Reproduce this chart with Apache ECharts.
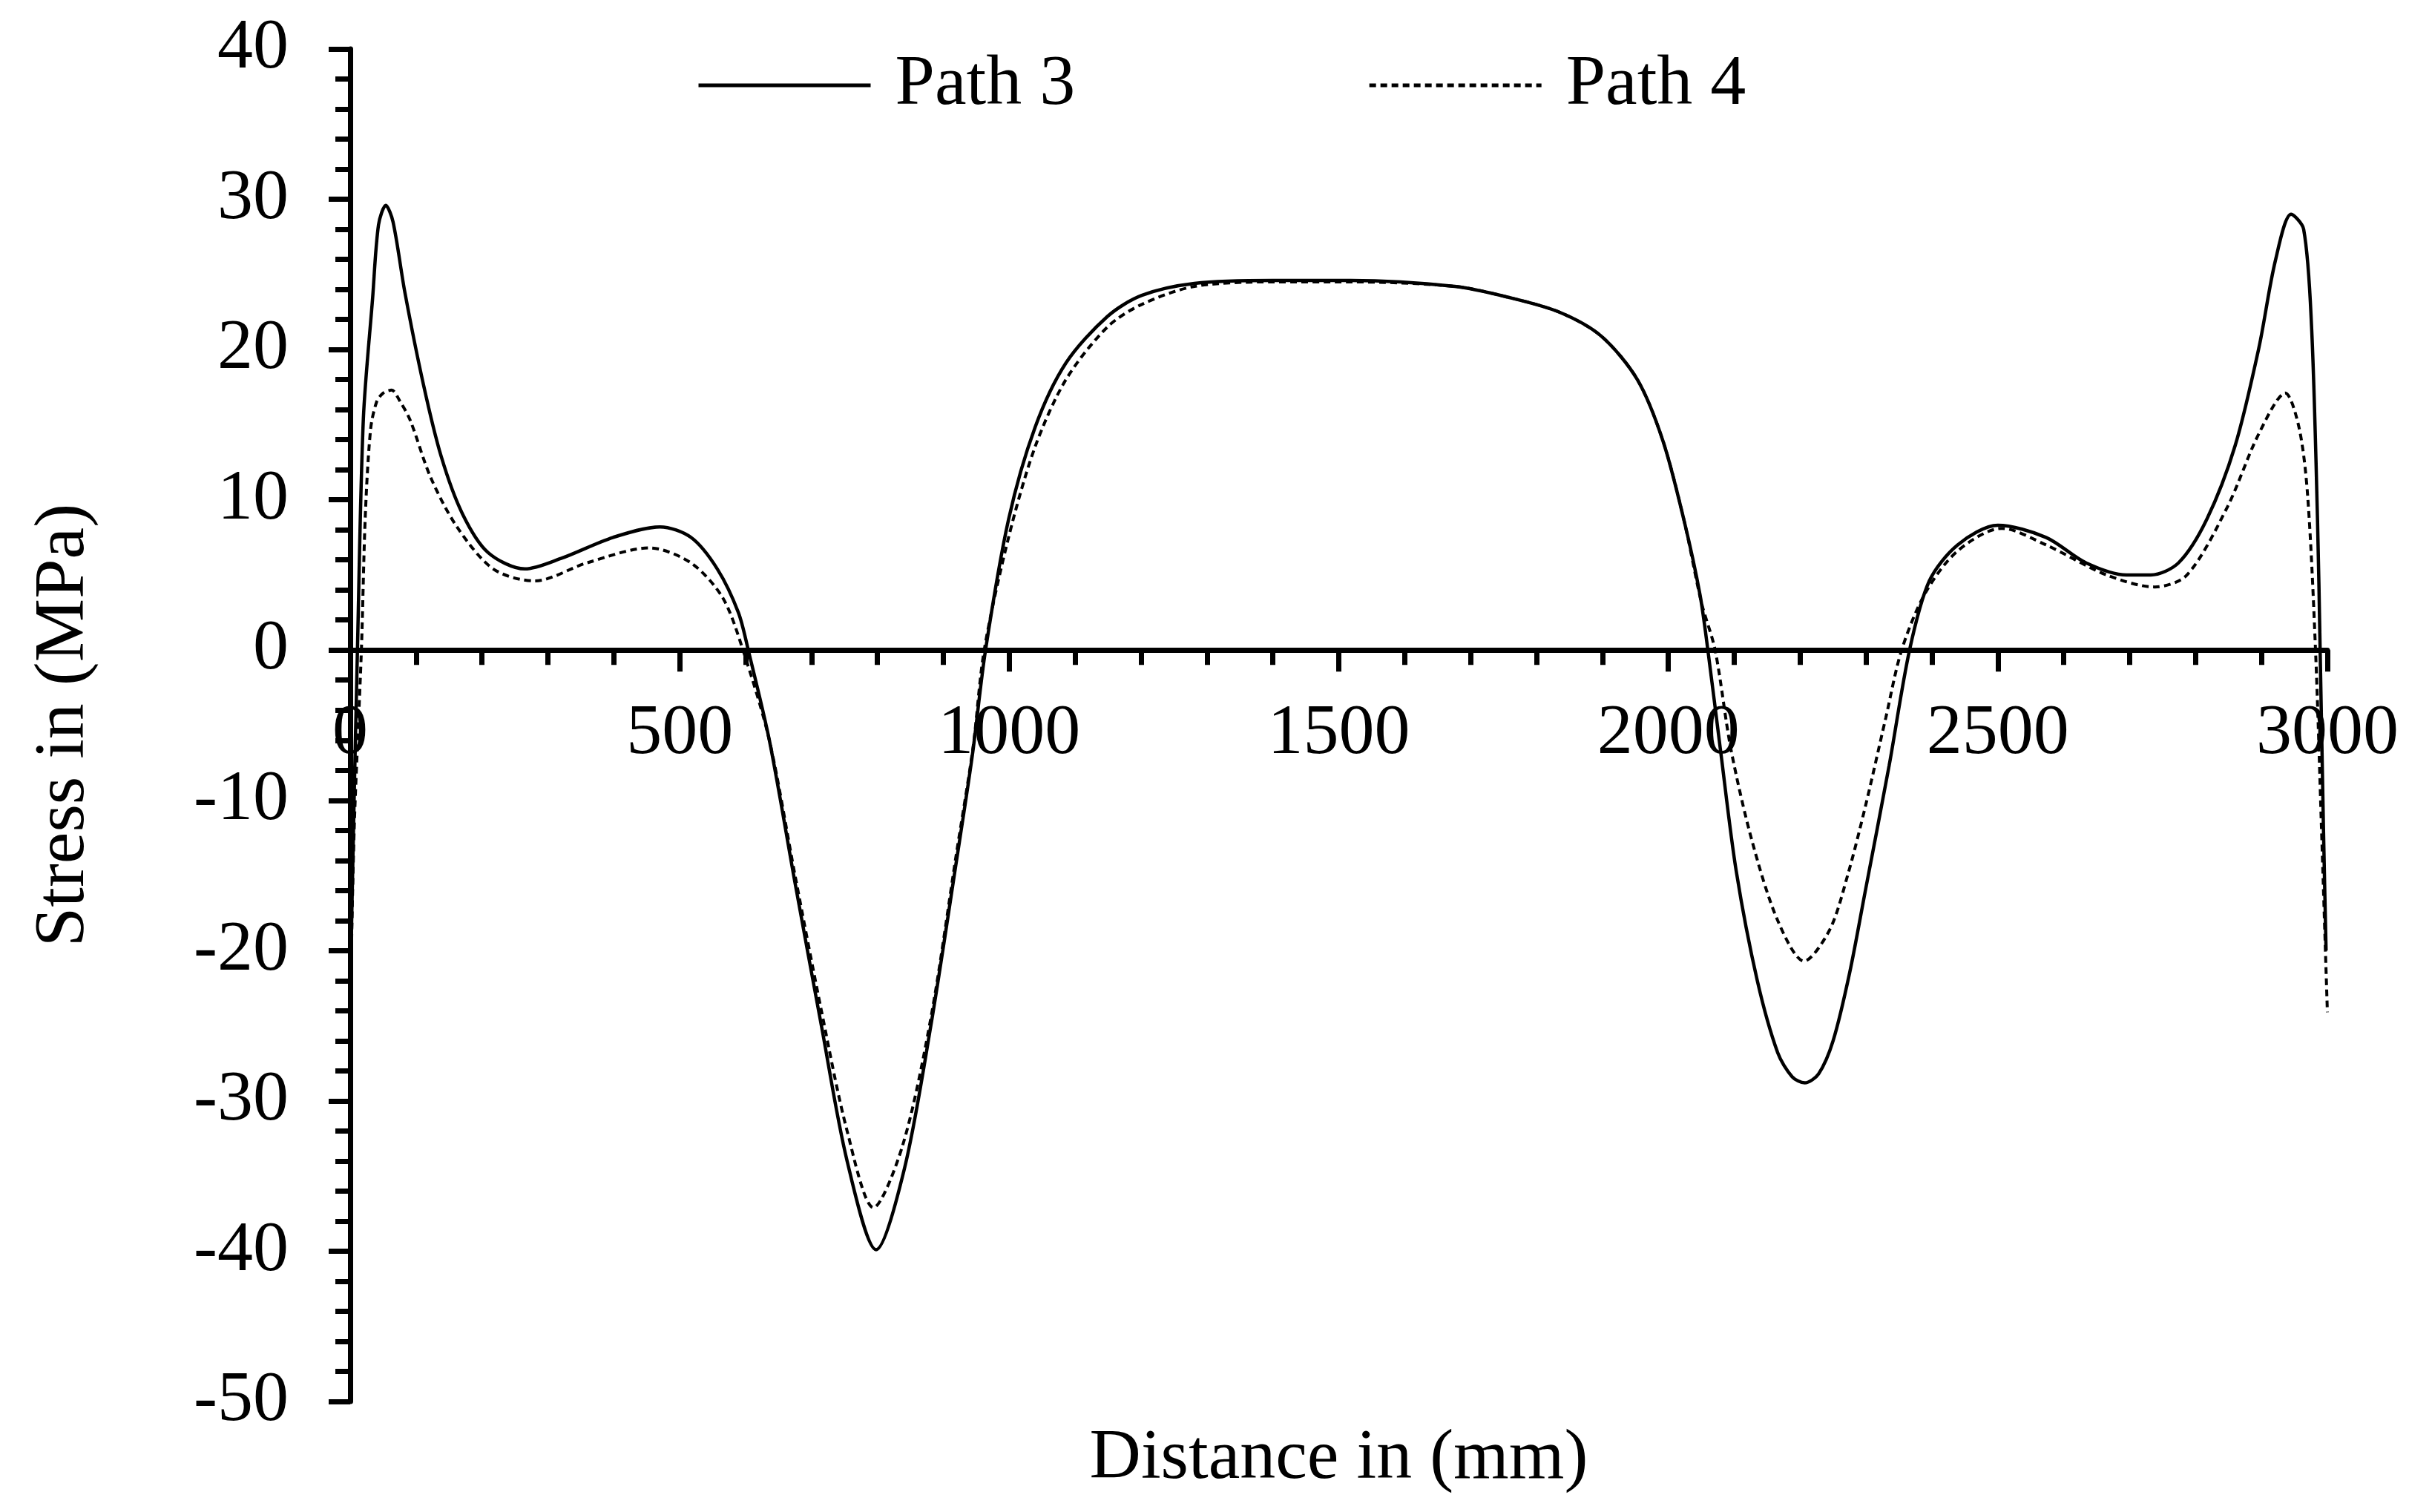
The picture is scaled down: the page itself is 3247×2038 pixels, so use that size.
<!DOCTYPE html>
<html>
<head>
<meta charset="utf-8">
<title>Stress along paths 3 and 4</title>
<script src="https://cdn.jsdelivr.net/npm/echarts@6/dist/echarts.min.js"></script>
<style>
  html, body { margin: 0; padding: 0; background: #fff; }
  #chart { width: 3247px; height: 2038px; }
</style>
</head>
<body>
<div id="chart"></div>
<script>
// distance (mm) and stress (MPa)
const path3X = [0, 5, 11, 20, 34, 43, 54, 65, 83, 111, 138, 170, 209, 265, 320, 399, 470, 517, 557, 589, 604,
  636, 675, 715, 754, 798, 841, 881, 920, 944, 964, 999, 1039, 1086, 1149, 1201, 1281, 1400, 1518, 1676,
  1755, 1834, 1898, 1953, 1992, 2024, 2048, 2060, 2079, 2103, 2135, 2166, 2188, 2207, 2228, 2250, 2275,
  2299, 2335, 2366, 2396, 2439, 2500, 2573, 2634, 2695, 2732, 2774, 2817, 2860, 2896, 2921, 2945, 2964,
  2976, 2985, 2989, 2994, 2998]
const path3Y = [-23, -12, 0, 15.4, 23.4, 28.3, 29.6, 28.5, 23.8, 17.7, 12.9, 9.1, 6.5, 5.4, 6.1, 7.5, 8.2,
  7.5, 5.4, 2.5, 0, -6, -15.5, -25, -34, -39.9, -34.5, -25, -14, -7, 0, 8.7, 14.8, 19.1, 22.2, 23.6, 24.4,
  24.6, 24.6, 24.2, 23.5, 22.5, 20.9, 18.0, 13.9, 8.6, 3.7, 0, -6.6, -14.7, -22.0, -26.8, -28.4, -28.8,
  -28.2, -26.0, -21.5, -16.0, -7.7, 0, 4.6, 7.0, 8.3, 7.5, 5.8, 5.0, 5.0, 5.8, 8.7, 13.6, 20.1, 25.9, 29.0,
  28.0, 21.5, 8.7, 0, -11.8, -20]

const path4X = [0, 6, 17, 23, 31, 40, 50, 63, 75, 91, 122, 162, 217, 280, 359, 454, 517, 565, 596, 636,
  675, 715, 754, 794, 838, 881, 920, 945, 962, 999, 1039, 1086, 1149, 1201, 1281, 1400, 1518, 1676, 1755,
  1834, 1898, 1953, 1992, 2024, 2050, 2071, 2095, 2127, 2166, 2206, 2245, 2272, 2299, 2330, 2354, 2390,
  2439, 2506, 2573, 2665, 2738, 2787, 2848, 2896, 2936, 2957, 2970, 2982, 2991, 3000]
const path4Y = [-24.5, -12, 0, 9, 14.7, 16.5, 17.1, 17.3, 16.6, 15.3, 11.5, 8.2, 5.4, 4.6, 5.8, 6.8, 5.8,
  3.5, 0, -6, -15, -24, -32, -37.1, -33, -24.5, -13.5, -6.5, 0, 7.5, 13.5, 18, 21.5, 23.0, 24.2, 24.5,
  24.5, 24.2, 23.5, 22.5, 20.9, 18.0, 13.9, 8.6, 3.2, 0, -6.6, -12.7, -18.0, -20.7, -18.6, -15.0, -10.4,
  -4.5, 0, 3.8, 6.6, 8.1, 7.0, 5.0, 4.2, 5.0, 9.5, 14.4, 17.1, 14.8, 10.3, 0, -11.8, -24.1]

const seriesNames = ['Path 3', 'Path 4']

const font = "'Liberation Serif', 'Times New Roman', serif"
const ink = '#000'

const pairs = (xs, ys) => xs.map((x, i) => [x, ys[i]])

const chart = echarts.init(document.getElementById('chart'))

const axisText = { color: ink, fontSize: 96, fontFamily: font }
const tickStyle = { color: ink, width: 7 }

// main plot area, and a second grid whose bottom edge sits on stress = 0
// so the distance axis (line, ticks, labels) is drawn along the zero line
const plot = { left: 472, right: 110, top: 66, bottom: 149 }
const yMin = -50
const yMax = 40
const plotH = 2038 - plot.top - plot.bottom
const zeroY = plot.top + plotH * yMax / (yMax - yMin)

const option = {
  animation: false,
  backgroundColor: '#fff',
  grid: [
    { ...plot, outerBoundsMode: 'none', containLabel: false },
    { left: plot.left, right: plot.right, top: plot.top, bottom: 2038 - zeroY, outerBoundsMode: 'none', containLabel: false }
  ],
  legend: {
    data: seriesNames,
    left: 934,
    top: 62,
    itemWidth: 232,
    itemHeight: 20,
    itemGap: 394,
    itemStyle: { color: 'rgba(0,0,0,0)', borderWidth: 0 },
    lineStyle: { width: 5 },
    textStyle: { ...axisText, padding: [0, 0, 0, 28] }
  },
  xAxis: [
    {
      gridIndex: 0,
      type: 'value',
      min: 0,
      max: 3000,
      name: 'Distance in (mm)',
      nameLocation: 'middle',
      nameGap: 30,
      nameTextStyle: axisText,
      axisLine: { show: false, onZero: false },
      axisTick: { show: false },
      axisLabel: { show: false },
      splitLine: { show: false }
    },
    {
      gridIndex: 1,
      type: 'value',
      min: 0,
      max: 3000,
      interval: 500,
      position: 'bottom',
      axisLine: { show: true, onZero: false, lineStyle: tickStyle },
      axisTick: { show: true, inside: false, length: 29, lineStyle: tickStyle },
      minorTick: { show: true, splitNumber: 5, length: 20, lineStyle: tickStyle },
      axisLabel: { ...axisText, margin: 66, showMinLabel: true, showMaxLabel: true, formatter: (v) => String(v) },
      splitLine: { show: false }
    }
  ],
  yAxis: [
    {
      gridIndex: 0,
      type: 'value',
      min: yMin,
      max: yMax,
      interval: 10,
      name: 'Stress in (MPa)',
      nameLocation: 'middle',
      nameGap: 337,
      nameTextStyle: axisText,
      axisLine: { show: true, onZero: false, lineStyle: tickStyle },
      axisTick: { show: true, inside: false, length: 29, lineStyle: tickStyle },
      minorTick: { show: true, splitNumber: 5, length: 20, lineStyle: tickStyle },
      axisLabel: { ...axisText, margin: 83, showMinLabel: true, showMaxLabel: true, formatter: (v) => String(v) },
      splitLine: { show: false }
    },
    {
      gridIndex: 1,
      type: 'value',
      min: 0,
      max: 1,
      show: false
    }
  ],
  series: [
    {
      name: seriesNames[0],
      type: 'line',
      xAxisIndex: 0,
      yAxisIndex: 0,
      data: pairs(path3X, path3Y),
      smooth: 0.3,
      symbol: 'none',
      z: 3,
      lineStyle: { color: ink, width: 4.5, type: 'solid' },
      itemStyle: { color: ink }
    },
    {
      name: seriesNames[1],
      type: 'line',
      xAxisIndex: 0,
      yAxisIndex: 0,
      data: pairs(path4X, path4Y),
      smooth: 0.3,
      symbol: 'none',
      z: 3,
      lineStyle: { color: ink, width: 4, type: [9, 6] },
      itemStyle: { color: ink }
    }
  ]
}

chart.setOption(option)
</script>
</body>
</html>
